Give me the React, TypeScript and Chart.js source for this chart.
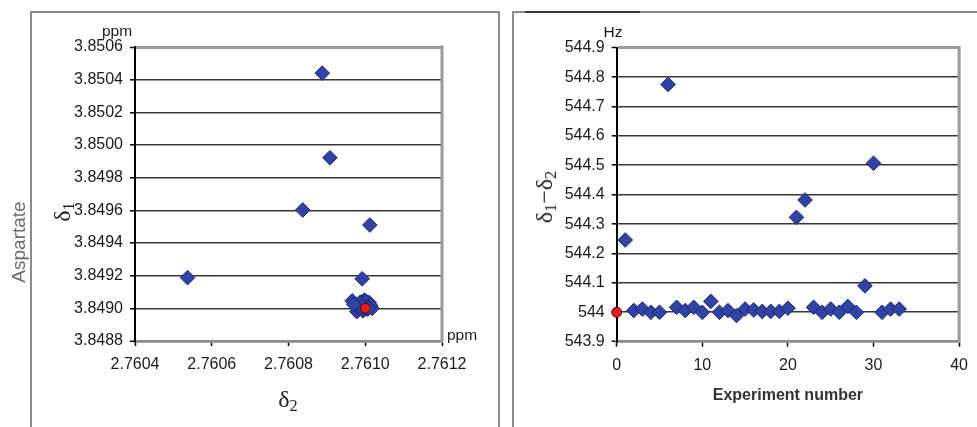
import React, { useEffect, useRef } from "react";
import { Chart, registerables } from "chart.js";

Chart.register(...registerables);

// ---------- Left panel: δ1 vs δ2 (ppm) ----------
const leftXTicks = [2.7604, 2.7606, 2.7608, 2.761, 2.7612];
const leftYTicks = [3.8488, 3.849, 3.8492, 3.8494, 3.8496, 3.8498, 3.85, 3.8502, 3.8504, 3.8506];
const delta2Values = [
  2.760888, 2.760908, 2.760837, 2.761012, 2.760537, 2.760992,
  2.760966, 2.760978, 2.760985, 2.76099, 2.760995, 2.760998, 2.761, 2.761004, 2.761008,
  2.761012, 2.761018, 2.760992, 2.761006, 2.760988, 2.761002, 2.760996, 2.76101,
  2.760982, 2.761, 2.760994, 2.761014, 2.760986, 2.761004, 2.760998, 2.76099, 2.761008, 2.76097,
];
const delta1Values = [
  3.85044, 3.849922, 3.849602, 3.84951, 3.849188, 3.849181,
  3.849046, 3.84898, 3.84901, 3.84904, 3.84903, 3.84905, 3.84902, 3.84904, 3.849028,
  3.84901, 3.849, 3.84899, 3.848995, 3.849022, 3.849005, 3.849015, 3.849035,
  3.849, 3.849045, 3.848985, 3.849018, 3.849035, 3.849012, 3.849002, 3.849008, 3.849, 3.849025,
];
const referenceDelta2 = [2.761];
const referenceDelta1 = [3.849];

// ---------- Right panel: δ1−δ2 (Hz) vs experiment ----------
const rightXTicks = [0, 10, 20, 30, 40];
const rightYTicks = [543.9, 544, 544.1, 544.2, 544.3, 544.4, 544.5, 544.6, 544.7, 544.8, 544.9];
const experimentNumbers = [
  1, 2, 3, 4, 5, 6, 7, 8, 9, 10, 11, 12, 13, 14, 15, 16, 17,
  18, 19, 20, 21, 22, 23, 24, 25, 26, 27, 28, 29, 30, 31, 32, 33,
];
const differenceHz = [
  544.246, 544.006, 544.011, 544.0, 544.0, 544.775, 544.017, 544.006, 544.017, 544.0, 544.037,
  544.0, 544.006, 543.989, 544.011, 544.008, 544.003, 544.003, 544.003, 544.014, 544.323,
  544.382, 544.017, 544.0, 544.011, 544.0, 544.02, 544.0, 544.09, 544.507, 544.0, 544.011, 544.011,
];
const referenceExperiment = [0];
const referenceHz = [544];

const BLUE = "#3144a6";
const BLUE_EDGE = "#1b2473";
const RED = "#ea1a1f";
const TICK_FONT = { family: "'Liberation Sans', Arial, sans-serif", size: 16 };

const frameBorderPlugin = {
  id: "frameBorder",
  afterDraw(chart: any) {
    const { ctx, chartArea } = chart;
    ctx.save();
    ctx.strokeStyle = "#9a9a9a";
    ctx.lineWidth = 3;
    ctx.beginPath();
    ctx.moveTo(chartArea.right, chartArea.top - 1.5);
    ctx.lineTo(chartArea.right, chartArea.bottom + 1);
    ctx.stroke();
    ctx.restore();
  },
};

function yGrid() {
  return {
    color: (c: any) => {
      const n = c.scale.ticks.length - 1;
      if (c.index === n) return "#9a9a9a";
      if (c.index === 0) return "#8a8a8a";
      return "#363636";
    },
    lineWidth: (c: any) => {
      const n = c.scale.ticks.length - 1;
      if (c.index === n) return 3;
      if (c.index === 0) return 2.5;
      return 1.6;
    },
    tickColor: "#000",
    tickWidth: 1.5,
    tickLength: 5,
    drawTicks: true,
  };
}

function makeConfig(opts: {
  blueX: number[];
  blueY: number[];
  redX: number[];
  redY: number[];
  xTicks: number[];
  yTicks: number[];
  yWidth: number;
  padding: any;
  xFormat: (v: number) => string;
  yFormat: (v: number) => string;
  xTitle?: string;
}) {
  return {
    type: "scatter" as const,
    data: {
      datasets: [
        {
          data: opts.redX.map((x, i) => ({ x, y: opts.redY[i] })),
          pointStyle: "circle",
          pointRadius: 5,
          backgroundColor: RED,
          borderColor: "#3a1010",
          borderWidth: 1,
          clip: false as any,
        },
        {
          data: opts.blueX.map((x, i) => ({ x, y: opts.blueY[i] })),
          pointStyle: "rectRot",
          pointRadius: 7.3,
          backgroundColor: BLUE,
          borderColor: BLUE_EDGE,
          borderWidth: 1,
          clip: false as any,
        },
      ],
    },
    options: {
      animation: false as const,
      responsive: false,
      events: [],
      layout: { padding: opts.padding },
      plugins: { legend: { display: false }, tooltip: { enabled: false } },
      scales: {
        x: {
          type: "linear" as const,
          min: opts.xTicks[0],
          max: opts.xTicks[opts.xTicks.length - 1],
          afterBuildTicks: (s: any) => {
            s.ticks = opts.xTicks.map((v) => ({ value: v }));
          },
          afterFit: (s: any) => {
            s.height = 70;
          },
          grid: {
            drawOnChartArea: false,
            drawTicks: true,
            tickLength: 5,
            tickColor: "#000",
            tickWidth: 1.5,
          },
          border: { display: true, color: "#8a8a8a", width: 2.5 },
          ticks: {
            font: TICK_FONT,
            color: "#1a1a1a",
            padding: 9,
            maxRotation: 0,
            callback: (v: any) => opts.xFormat(Number(v)),
          },
          title: opts.xTitle
            ? {
                display: true,
                text: opts.xTitle,
                color: "#333",
                font: { family: "'Liberation Sans', Arial, sans-serif", size: 16, weight: "bold" as const },
                padding: { top: 0, bottom: 7 },
              }
            : { display: false },
        },
        y: {
          type: "linear" as const,
          min: opts.yTicks[0],
          max: opts.yTicks[opts.yTicks.length - 1],
          afterBuildTicks: (s: any) => {
            s.ticks = opts.yTicks.map((v) => ({ value: v }));
          },
          afterFit: (s: any) => {
            s.width = opts.yWidth;
          },
          grid: yGrid(),
          border: { display: true, color: "#000", width: 2 },
          ticks: {
            font: TICK_FONT,
            color: "#1a1a1a",
            padding: 7,
            callback: (v: any) => opts.yFormat(Number(v)),
          },
        },
      },
    },
    plugins: [frameBorderPlugin],
  };
}

function ChartCanvas({ config, left, width }: { config: any; left: number; width: number }) {
  const ref = useRef<HTMLCanvasElement | null>(null);
  useEffect(() => {
    if (!ref.current) return;
    const chart = new Chart(ref.current, config);
    return () => chart.destroy();
  }, [config]);
  return (
    <canvas
      ref={ref}
      width={width}
      height={427}
      style={{ position: "absolute", left, top: 0, width, height: 427 }}
    />
  );
}

function Label({
  x,
  y,
  rotate,
  style,
  children,
}: {
  x: number;
  y: number;
  rotate?: boolean;
  style?: React.CSSProperties;
  children: React.ReactNode;
}) {
  return (
    <div
      style={{
        position: "absolute",
        left: x,
        top: y,
        transform: `translate(-50%, -50%)${rotate ? " rotate(-90deg)" : ""}`,
        whiteSpace: "nowrap",
        lineHeight: 1,
        ...style,
      }}
    >
      {children}
    </div>
  );
}

const leftConfig = makeConfig({
  blueX: delta2Values,
  blueY: delta1Values,
  redX: referenceDelta2,
  redY: referenceDelta1,
  xTicks: leftXTicks,
  yTicks: leftYTicks,
  yWidth: 135,
  padding: { left: 0, top: 47, right: 58, bottom: 16 },
  xFormat: (v) => v.toFixed(4),
  yFormat: (v) => v.toFixed(4),
});

const rightConfig = makeConfig({
  blueX: experimentNumbers,
  blueY: differenceHz,
  redX: referenceExperiment,
  redY: referenceHz,
  xTicks: rightXTicks,
  yTicks: rightYTicks,
  yWidth: 116.7,
  padding: { left: 0, top: 47.7, right: 15.3, bottom: 15.3 },
  xFormat: (v) => String(Math.round(v)),
  yFormat: (v) => String(Math.round(v * 10) / 10),
  xTitle: "Experiment number",
});

const sans = "'Liberation Sans', Arial, sans-serif";
const serif = "'Liberation Serif', 'Times New Roman', serif";
const subStyle: React.CSSProperties = { fontSize: "0.68em", verticalAlign: "-0.22em", lineHeight: 0 };

export default function App() {
  return (
    <div
      style={{
        position: "fixed",
        left: 0,
        top: 0,
        width: 977,
        height: 427,
        overflow: "hidden",
        background: "#fff",
      }}
    >
      {/* panel frames */}
      <div
        style={{
          position: "absolute",
          left: 30,
          top: 11,
          width: 466,
          height: 430,
          border: "2px solid #8c8c8c",
        }}
      />
      <div
        style={{
          position: "absolute",
          left: 512,
          top: 11,
          width: 480,
          height: 430,
          borderLeft: "2px solid #8c8c8c",
          borderTop: "2px solid #8c8c8c",
        }}
      />
      <div
        style={{ position: "absolute", left: 525, top: 11, width: 115, height: 2, background: "#3a3a3a" }}
      />

      <ChartCanvas config={leftConfig} left={0} width={500} />
      <ChartCanvas config={rightConfig} left={500} width={477} />

      <Label x={117} y={31} style={{ fontFamily: sans, fontSize: 15.5, color: "#1a1a1a" }}>
        ppm
      </Label>
      <Label x={462} y={335} style={{ fontFamily: sans, fontSize: 15.5, color: "#1a1a1a" }}>
        ppm
      </Label>
      <Label x={613} y={32} style={{ fontFamily: sans, fontSize: 15.5, color: "#1a1a1a" }}>
        Hz
      </Label>
      <Label x={17.5} y={242} rotate style={{ fontFamily: sans, fontSize: 19, color: "#6a6a6a" }}>
        Aspartate
      </Label>
      <Label x={62} y={212} rotate style={{ fontFamily: serif, fontSize: 24, color: "#222" }}>
        δ<span style={subStyle}>1</span>
      </Label>
      <Label x={288} y={399} style={{ fontFamily: serif, fontSize: 24, color: "#222" }}>
        δ<span style={subStyle}>2</span>
      </Label>
      <Label x={544} y={197} rotate style={{ fontFamily: serif, fontSize: 24, color: "#222" }}>
        δ<span style={subStyle}>1</span>−δ<span style={subStyle}>2</span>
      </Label>
    </div>
  );
}
